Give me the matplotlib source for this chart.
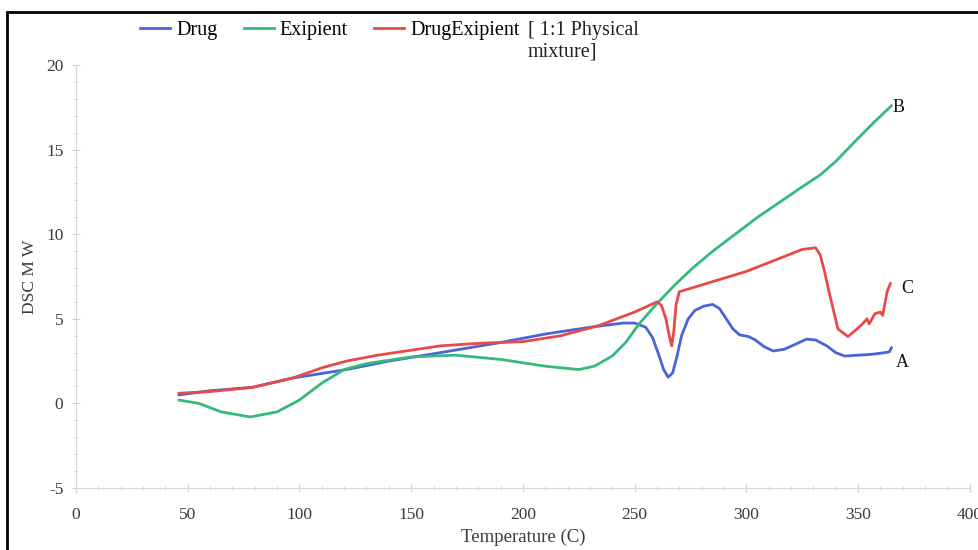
import matplotlib.pyplot as plt
from matplotlib.lines import Line2D
from matplotlib.patches import Rectangle
from matplotlib.ticker import MultipleLocator

# DSC thermograms: temperature (C) vs heat flow (mW)
drug_t = [46, 60, 79, 97, 121, 140, 163, 190, 210, 230, 245, 250, 255, 258, 261,
          263, 265, 267, 269, 271, 274, 277, 281, 285, 288, 291, 294, 297, 301,
          304, 308, 312, 317, 322, 327, 331, 336, 340, 344, 350, 356, 362, 364, 365]
drug_v = [0.5, 0.75, 0.95, 1.5, 2.0, 2.5, 3.0, 3.6, 4.1, 4.5, 4.75, 4.75, 4.5, 3.9, 2.8,
          2.0, 1.55, 1.8, 2.8, 4.0, 5.0, 5.5, 5.75, 5.85, 5.6, 5.0, 4.4, 4.05, 3.95,
          3.75, 3.35, 3.1, 3.2, 3.5, 3.8, 3.75, 3.4, 3.0, 2.8, 2.85, 2.9, 3.0, 3.05, 3.3]

exc_t = [46, 55, 65, 78, 90, 100, 110, 120, 130, 150, 170, 190, 210, 225, 232,
         240, 246, 252, 260, 268, 276, 285, 295, 305, 315, 325, 333, 340, 348,
         357, 365]
exc_v = [0.2, 0.0, -0.5, -0.8, -0.5, 0.2, 1.2, 2.0, 2.35, 2.75, 2.85, 2.6, 2.2, 2.0, 2.2,
         2.8, 3.6, 4.7, 5.9, 7.0, 8.0, 9.0, 10.0, 11.0, 11.9, 12.8, 13.5, 14.3, 15.4,
         16.6, 17.6]

mix_t = [46, 60, 79, 97, 110, 121, 135, 163, 180, 200, 217, 234, 250, 260, 262,
         264, 265.5, 266.6, 267.5, 268.5, 270, 300, 325, 331, 333, 335, 337, 339,
         341, 345.5, 349.5, 352, 354, 355, 357.5, 360, 361, 363, 364.5]
mix_v = [0.6, 0.7, 0.95, 1.5, 2.1, 2.5, 2.85, 3.4, 3.55, 3.65, 4.0, 4.6, 5.4, 6.0, 5.8,
         5.0, 4.0, 3.4, 4.2, 5.8, 6.6, 7.8, 9.1, 9.2, 8.8, 7.8, 6.6, 5.5,
         4.4, 3.95, 4.4, 4.7, 5.0, 4.7, 5.3, 5.4, 5.2, 6.6, 7.1]

labels = ['Drug', 'Exipient', 'DrugExipient']
colors = ['#4a63d8', '#36b97a', '#e84a4a']
curve_tags = ['A', 'B', 'C']
tag_pos = [(370, 2.4), (368, 17.5), (372, 6.8)]

plt.rcParams['font.family'] = ['Liberation Serif', 'DejaVu Serif']
plt.rcParams['axes.unicode_minus'] = False

fig = plt.figure(figsize=(9.79, 5.50), dpi=100)
ax = fig.add_axes([0.0776, 0.1127, 0.913, 0.7691])

for t, v, c in zip([drug_t, exc_t, mix_t], [drug_v, exc_v, mix_v], colors):
    ax.plot(t, v, color=c, lw=2.0, solid_capstyle='round', solid_joinstyle='round')

for tag, (tx, ty) in zip(curve_tags, tag_pos):
    ax.text(tx, ty, tag, fontsize=13, ha='center', va='center', color='#111111')

ax.set_xlim(0, 400)
ax.set_ylim(-5, 20)
ax.xaxis.set_major_locator(MultipleLocator(50))
ax.xaxis.set_minor_locator(MultipleLocator(10))
ax.yaxis.set_major_locator(MultipleLocator(5))
ax.yaxis.set_minor_locator(MultipleLocator(1))
for s in ['top', 'right']:
    ax.spines[s].set_visible(False)
for s in ['left', 'bottom']:
    ax.spines[s].set_color('#d8d8d8')
ax.tick_params(which='both', direction='inout', color='#d0d0d0', labelcolor='#3a3a3a',
               labelsize=12.5)
ax.tick_params(which='major', length=6)
ax.tick_params(axis='x', which='major', pad=11)
ax.tick_params(axis='y', which='major', pad=6)
ax.tick_params(which='minor', length=3)

ax.set_xlabel('Temperature (C)', fontsize=13.5, color='#3a3a3a', labelpad=4)
ax.set_ylabel('DSC M W', fontsize=12.5, color='#3a3a3a', labelpad=6)

handles = [Line2D([], [], color=c, lw=2.0) for c in colors]
fig.legend(handles, labels, loc='upper left', bbox_to_anchor=(0.143, 0.962),
           ncol=3, frameon=False, fontsize=14.5, handlelength=1.5,
           handletextpad=0.3, columnspacing=1.3, borderpad=0, borderaxespad=0)
fig.text(0.539, 0.962, '[ 1:1 Physical\nmixture]', fontsize=14.5, va='top',
         ha='left', color='#222222', linespacing=1.15)

# outer frame
fig.patches.append(Rectangle((7 / 979, -0.05), 1.2, 1 - 12 / 550 + 0.05,
                             transform=fig.transFigure, fill=False,
                             edgecolor='black', lw=2, zorder=10))

fig.savefig('out.png', dpi=100)
